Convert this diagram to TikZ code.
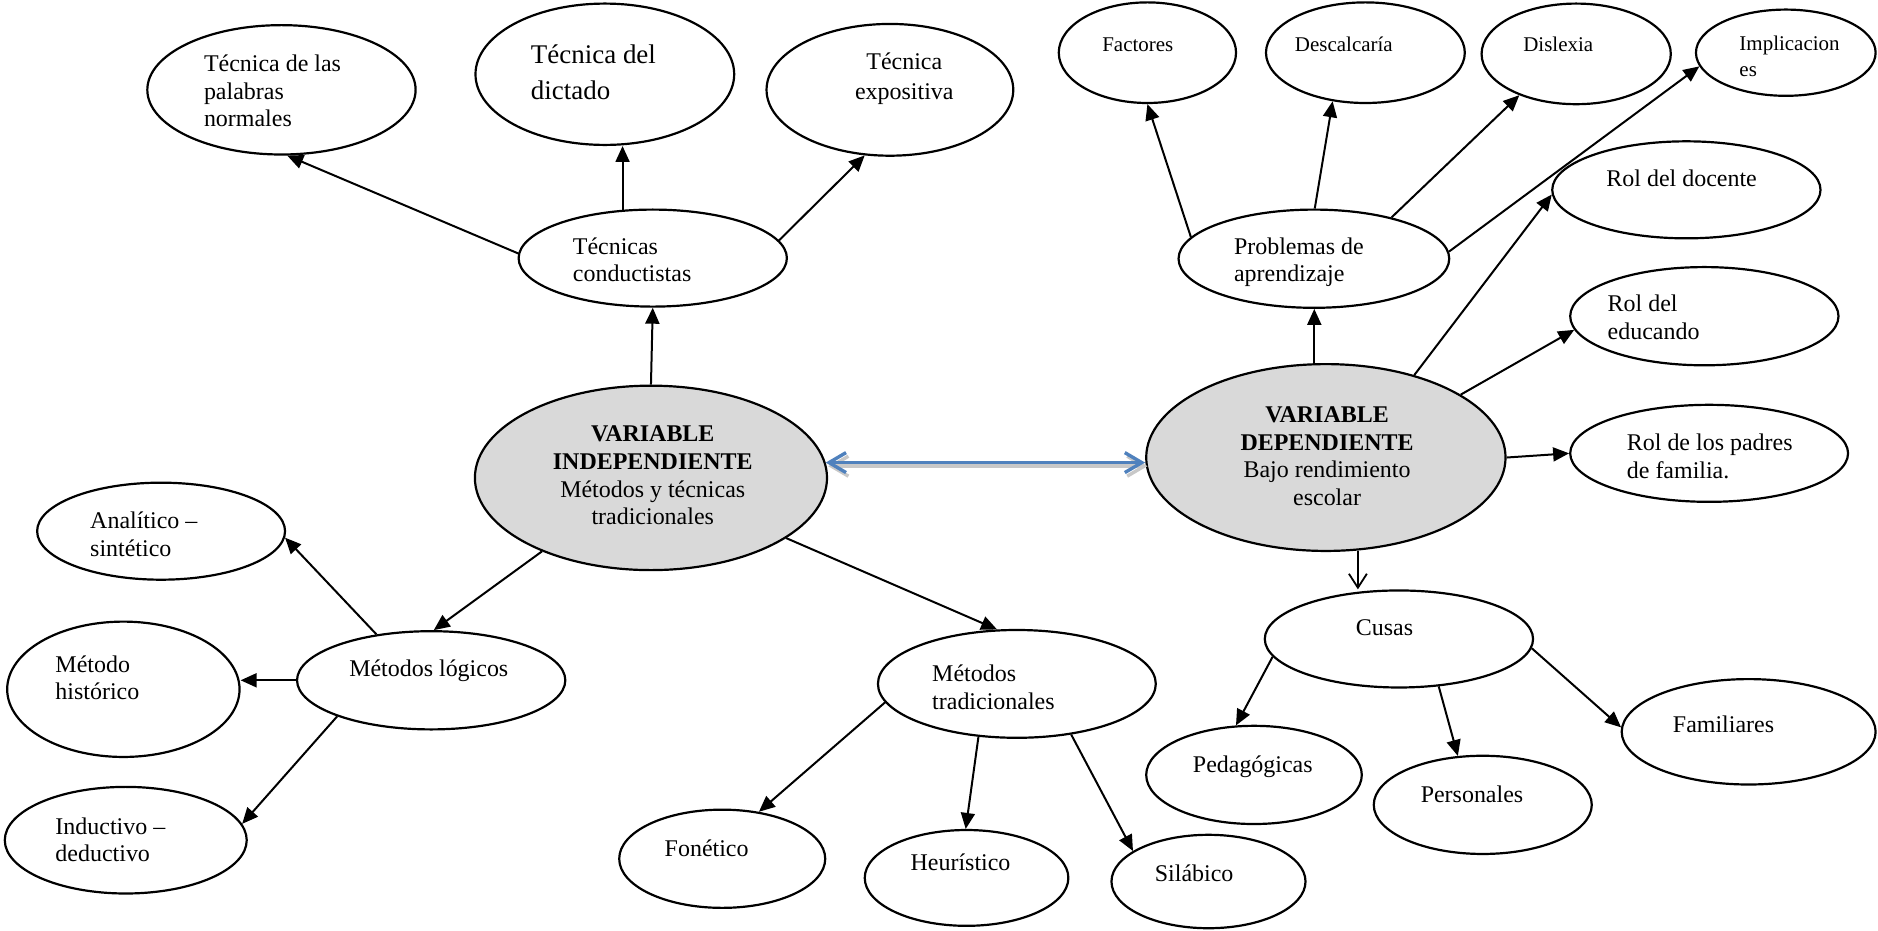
\documentclass[tikz,border=0pt]{standalone}
\usepackage{fontspec}
\setmainfont{Liberation Serif}
\usetikzlibrary{shapes.geometric,arrows.meta,calc}
\definecolor{nodegray}{HTML}{D9D9D9}
\definecolor{blueline}{HTML}{4F81BD}
\definecolor{shadowgray}{HTML}{C8C8C8}
\begin{document}
\begin{tikzpicture}[x=0.6pt,y=-0.6pt,
  ell/.style={ellipse,draw,line width=1.1pt,inner sep=0pt,fill=white},
  gell/.style={ell,fill=nodegray},
  txt/.style={inner sep=0pt,align=left,font=\fontsize{12}{13.8}\selectfont},
  stxt/.style={inner sep=0pt,align=left,font=\fontsize{10.5}{12.6}\selectfont},
  arr/.style={line width=1pt,-{Triangle[length=8pt,width=7pt]}},
  openarr/.style={line width=0.9pt,-{Straight Barb[length=7pt,width=9pt]}},
  bluearr/.style={line width=1.7pt,color=blueline,{Straight Barb[length=8.5pt,width=10pt]}-{Straight Barb[length=8.5pt,width=10pt]}},
  shadarr/.style={line width=1.7pt,color=shadowgray,{Straight Barb[length=8.5pt,width=10pt]}-{Straight Barb[length=8.5pt,width=10pt]}}
]
\useasboundingbox[fill=white] (0,0) rectangle (1568,777);

% ellipses
\node[ell,minimum width=134.4pt,minimum height=64.8pt] (pal) at (235,75) {};
\node[ell,minimum width=129.6pt,minimum height=70.8pt] (dic) at (505,62) {};
\node[ell,minimum width=123.6pt,minimum height=66pt] (exp) at (743,75) {};
\node[ell,minimum width=134.4pt,minimum height=48.6pt] (tc) at (545,215.5) {};
\node[gell,minimum width=176.4pt,minimum height=92.4pt] (vi) at (543.5,399) {};
\node[gell,minimum width=180pt,minimum height=93.6pt] (vd) at (1107,382) {};
\node[ell,minimum width=135.6pt,minimum height=49.2pt] (pa) at (1097,216) {};
\node[ell,minimum width=88.8pt,minimum height=50.4pt] (fac) at (958,44) {};
\node[ell,minimum width=99.6pt,minimum height=50.4pt] (des) at (1140,44) {};
\node[ell,minimum width=94.8pt,minimum height=50.4pt] (dis) at (1316,45) {};
\node[ell,minimum width=90pt,minimum height=43.2pt] (imp) at (1491,44) {};
\node[ell,minimum width=134.4pt,minimum height=48.6pt] (rd) at (1408,158.5) {};
\node[ell,minimum width=134.4pt,minimum height=49.2pt] (re) at (1423,264) {};
\node[ell,minimum width=139.2pt,minimum height=48.6pt] (rp) at (1427,378.5) {};
\node[ell,minimum width=134.4pt,minimum height=48.6pt] (cu) at (1168,533.5) {};
\node[ell,minimum width=108pt,minimum height=49.2pt] (ped) at (1047,647) {};
\node[ell,minimum width=109.2pt,minimum height=49.2pt] (per) at (1238,672) {};
\node[ell,minimum width=127.2pt,minimum height=52.8pt] (fam) at (1460,611) {};
\node[ell,minimum width=139.2pt,minimum height=54pt] (mt) at (849,571) {};
\node[ell,minimum width=103.2pt,minimum height=49.2pt] (fon) at (603,717) {};
\node[ell,minimum width=102pt,minimum height=48pt] (heu) at (807,733) {};
\node[ell,minimum width=97.2pt,minimum height=46.8pt] (sil) at (1009,736) {};
\node[ell,minimum width=134.4pt,minimum height=49.2pt] (ml) at (360,568) {};
\node[ell,minimum width=124.2pt,minimum height=48.6pt] (ana) at (134.5,443.5) {};
\node[ell,minimum width=116.4pt,minimum height=67.8pt] (his) at (103,575.5) {};
\node[ell,minimum width=121.2pt,minimum height=53.4pt] (ind) at (105,701.5) {};

% texts
\node[txt,anchor=west] (tpal) at (170,76) {Técnica de las\\palabras\\normales};
\node[txt,anchor=west,font=\fontsize{13.5}{18}\selectfont] (tdic) at (443,60) {Técnica del\\dictado};
\node[txt,align=center,font=\fontsize{12}{15}\selectfont] (texp) at (755,66) {Técnica\\expositiva};
\node[txt,anchor=west] (ttc) at (478,217) {Técnicas\\conductistas};
\node[txt,align=center] (tvi) at (545,397) {\textbf{VARIABLE}\\\textbf{INDEPENDIENTE}\\Métodos y técnicas\\tradicionales};
\node[txt,align=center] (tvd) at (1108,381) {\textbf{VARIABLE}\\\textbf{DEPENDIENTE}\\Bajo rendimiento\\escolar};
\node[txt,anchor=west] (tpa) at (1030,219) {Problemas de\\aprendizaje};
\node[stxt] (tfac) at (950,37) {Factores};
\node[stxt] (tdes) at (1122,37) {Descalcaría};
\node[stxt] (tdis) at (1301,37) {Dislexia};
\node[stxt,anchor=west] (timp) at (1452,47) {Implicacion\\es};
\node[txt] (trd) at (1404,149) {Rol del docente};
\node[txt,anchor=west] (tre) at (1342,265) {Rol del\\educando};
\node[txt,anchor=west] (trp) at (1358,381) {Rol de los padres\\de familia.};
\node[txt] (tcu) at (1156,524) {Cusas};
\node[txt] (tped) at (1046,640) {Pedagógicas};
\node[txt] (tper) at (1229,663) {Personales};
\node[txt] (tfam) at (1439,605) {Familiares};
\node[txt,anchor=west] (tmt) at (778,574) {Métodos\\tradicionales};
\node[txt] (tfon) at (590,708) {Fonético};
\node[txt] (theu) at (802,720) {Heurístico};
\node[txt] (tsil) at (997,729) {Silábico};
\node[txt] (tml) at (358,560) {Métodos lógicos};
\node[txt,anchor=west] (tana) at (75,446) {Analítico –\\sintético};
\node[txt,anchor=west] (this) at (46,566) {Método\\histórico};
\node[txt,anchor=west] (tind) at (46,701) {Inductivo –\\deductivo};

% connectors
\draw[arr] (tc.178) -- (pal.275);
\draw[arr] (tc.122) -- (tc.122 |- dic.south);
\draw[arr] (tc.8) -- (exp.249);
\draw[arr] (vi.north) -- (tc.south);
\draw[arr] (vi.214) -- (ml.87);
\draw[arr] (vi.336) -- (mt.110);
\draw[arr] (ml.140) -- (ana.357);
\draw[arr] (ml.west) -- (ml.west -| his.east);
\draw[arr] (ml.201) -- (ind.8);
\draw[arr] (mt.188) -- (fon.52);
\draw[arr] (mt.234) -- (heu.91);
\draw[arr] (mt.317) -- (sil.158);
\draw[arr] (vd.97) -- (vd.97 |- pa.south);
\draw[arr] (pa.170) -- (fac.south);
\draw[arr] (pa.89) -- (des.236);
\draw[arr] (pa.28) -- (dis.216);
\draw[arr] (pa.3) -- (imp.189);
\draw[arr] (vd.43) -- (rd.182);
\draw[arr] (vd.25) -- (re.186);
\draw[arr] (vd.east) -- (rp.west);
\draw[openarr] (vd.289) -- (vd.289 |- cu.north);
\draw[arr] (cu.188) -- (ped.110);
\draw[arr] (cu.310) -- (per.117);
\draw[arr] (cu.356) -- (fam.178);

% double arrow with shadow
\coordinate (bl) at (vi.5);
\coordinate (br) at (bl -| vd.west);
\draw[shadarr] ($(bl)+(2,3)$) -- ($(br)+(2,3)$);
\draw[bluearr] (bl) -- (br);
\end{tikzpicture}
\end{document}
